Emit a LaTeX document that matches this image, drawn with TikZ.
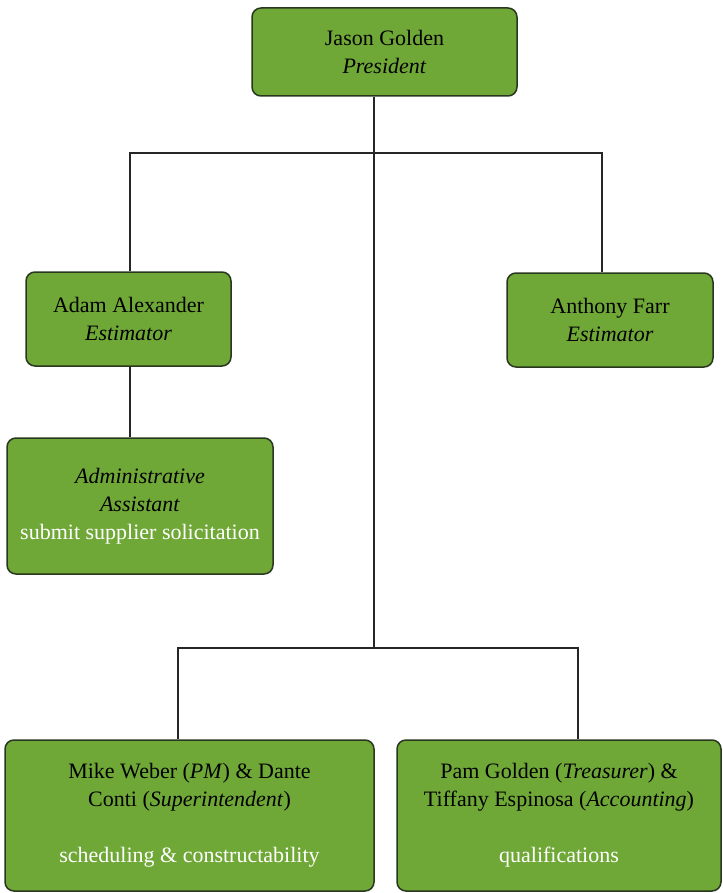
\documentclass[tikz,border=0pt]{standalone}
\usepackage{fontspec}
\setmainfont{Liberation Serif}
\definecolor{boxgreen}{RGB}{112,168,56}
\definecolor{boxedge}{RGB}{40,55,30}
\begin{document}
\begin{tikzpicture}[x=1pt,y=-1pt,
  box/.style={draw=boxedge,line width=1.5pt,fill=boxgreen,rounded corners=9pt,
    align=center,inner sep=0pt,font=\fontsize{22}{28}\selectfont},
  conn/.style={draw=black!85,line width=1.6pt}]
\useasboundingbox (0,0) rectangle (722,893);
\node[box,minimum width=265pt,minimum height=88pt] (top) at (384.5,52) {Jason Golden\\\textit{President}};
\node[box,minimum width=205pt,minimum height=94pt] (adam) at (128.5,319) {Adam Alexander\\\textit{Estimator}};
\node[box,minimum width=206pt,minimum height=94pt] (anth) at (610,320) {Anthony Farr\\\textit{Estimator}};
\node[box,minimum width=266pt,minimum height=136pt] (admin) at (140,506) {\textit{Administrative}\\\textit{Assistant}\\\textcolor{white}{submit supplier solicitation}};
\node[box,minimum width=369pt,minimum height=151pt] (mike) at (189.5,815.5) {Mike Weber (\textit{PM}) \& Dante\\Conti (\textit{Superintendent})\\[28pt]\textcolor{white}{scheduling \& constructability}};
\node[box,minimum width=324pt,minimum height=151pt] (pam) at (559,815.5) {Pam Golden (\textit{Treasurer}) \&\\Tiffany Espinosa (\textit{Accounting})\\[28pt]\textcolor{white}{qualifications}};
\coordinate (tA) at (374,153);
\coordinate (tB) at (374,648);
\coordinate (dAdam) at (130,0);
\coordinate (dAnth) at (602,0);
\coordinate (dMike) at (178,0);
\coordinate (dPam) at (578,0);
\draw[conn] (top.south -| tA) -- (tB);
\draw[conn] (adam.north -| dAdam) |- (tA) -| (anth.north -| dAnth);
\draw[conn] (adam.south -| dAdam) -- (admin.north -| dAdam);
\draw[conn] (mike.north -| dMike) |- (tB) -| (pam.north -| dPam);
\end{tikzpicture}
\end{document}
